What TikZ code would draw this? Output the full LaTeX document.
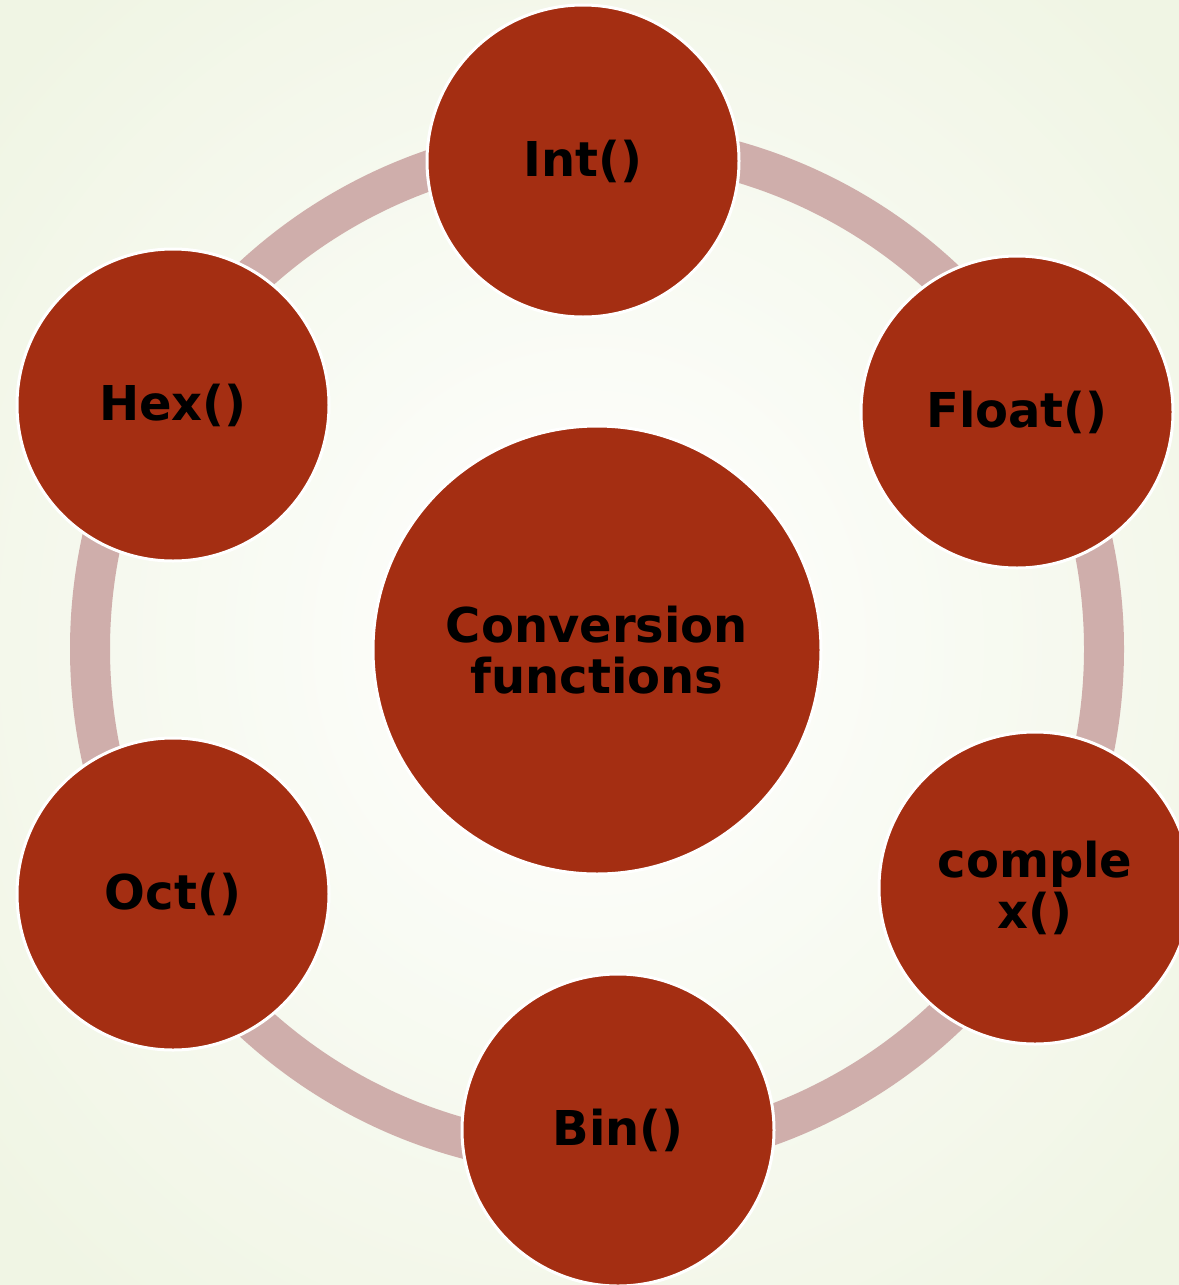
\documentclass[tikz,border=0pt]{standalone}
\usepackage{fontspec}
\setmainfont{DejaVu Sans}
\usetikzlibrary{positioning}
\definecolor{rust}{HTML}{A42E12}
\definecolor{ringpink}{HTML}{CFAEAB}
\definecolor{paleback}{HTML}{F0F5E4}

\tikzset{
  func/.style={circle, fill=rust, draw=white, line width=3pt, minimum size=312pt,
    inner sep=0pt, align=center, text=black, font=\bfseries\fontsize{48}{51}\selectfont},
  hub/.style={func, minimum size=448pt},
  ring/.style={draw=ringpink, line width=40pt}
}

\begin{document}
\begin{tikzpicture}[x=1pt,y=-1pt]
  \useasboundingbox (0,0) rectangle (1178,1285);
  \shade[inner color=white, outer color=paleback] (-200,-200) rectangle (1378,1485);
  \coordinate (mid) at (597,649);
  \draw[ring] (mid) circle[radius=507];

  \node[hub] (conv) at (597,650) {Conversion\\functions};
  \node[func] (int) at (583,161) {Int()};
  \node[func] (float) at (1017,412) {Float()};
  \node[func] (cplx) at (1035,888) {comple\\x()};
  \node[func] (bin) at (618,1130) {Bin()};
  \node[func] (oct) at (173,894) {Oct()};
  \node[func] (hex) at (173,405) {Hex()};
\end{tikzpicture}
\end{document}
